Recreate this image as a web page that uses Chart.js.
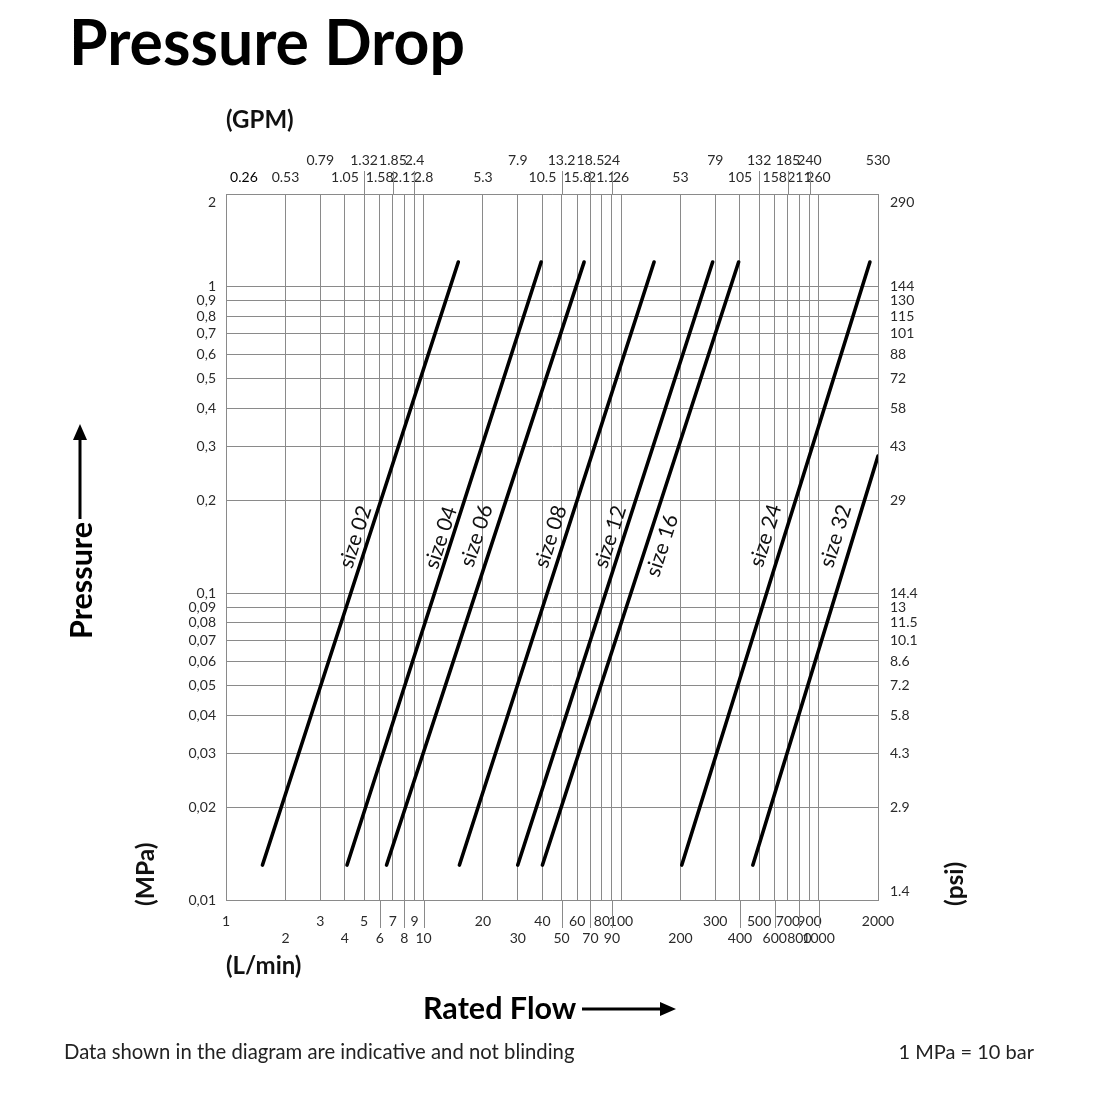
<!DOCTYPE html>
<html>
<head>
<meta charset="utf-8">
<title>Pressure Drop</title>
<script src="https://cdn.jsdelivr.net/npm/chart.js@4.4.1/dist/chart.umd.min.js"></script>
<style>
  html, body { margin: 0; padding: 0; background: #fff; }
  #wrap { position: relative; width: 1100px; height: 1100px; font-family: Lato, "Open Sans", sans-serif; color: #111; }
  #dropChart { position: absolute; left: 0; top: 0; }
  .lbl { position: absolute; line-height: 1; white-space: nowrap; }
  .b { font-weight: 700; }
  .rot { transform-origin: 0 0; transform: rotate(-90deg); }
</style>
</head>
<body>
<div id="wrap">
  <canvas id="dropChart" width="1100" height="1100"></canvas>
  <div class="lbl b" style="left:69px; top:10px; font-size:62.5px; color:#000;">Pressure Drop</div>
  <div class="lbl b" style="left:226px; top:107px; font-size:24px;">(GPM)</div>
  <div class="lbl b" style="left:226px; top:953px; font-size:24px;">(L/min)</div>
  <div class="lbl b" style="left:423px; top:992px; font-size:30.5px; color:#000;">Rated Flow</div>
  <div class="lbl b rot" style="left:65px; top:639px; font-size:30.5px; color:#000;">Pressure</div>
  <div class="lbl b rot" style="left:133px; top:906px; font-size:24.5px;">(MPa)</div>
  <div class="lbl b rot" style="left:942px; top:906px; font-size:24.5px;">(psi)</div>
  <div class="lbl" style="left:64px; top:1041px; font-size:20.3px; color:#222;">Data shown in the diagram are indicative and not blinding</div>
  <div class="lbl" style="right:66px; top:1041px; font-size:20px; color:#222;">1 MPa = 10 bar</div>
</div>
<script>
// Flow axis (L/min) and its GPM twin
const flowTicks = [1, 2, 3, 4, 5, 6, 7, 8, 9, 10, 20, 30, 40, 50, 60, 70, 80, 90, 100,
  200, 300, 400, 500, 600, 700, 800, 900, 1000, 2000];
const flowUpperRow = [1, 3, 5, 7, 9, 20, 40, 60, 80, 100, 300, 500, 700, 900, 2000];
const gpmLabels = ['0.26', '0.53', '0.79', '1.05', '1.32', '1.58', '1.85', '2.11', '2.4', '2.8',
  '5.3', '7.9', '10.5', '13.2', '15.8', '18.5', '21.1', '24', '26',
  '53', '79', '105', '132', '158', '185', '211', '240', '260', '530'];
const gpmUpperRow = [3, 5, 7, 9, 30, 50, 70, 90, 300, 500, 700, 900, 2000];
// grid lines that run out past the frame to their label
const flowLeadersBottom = [6, 8, 10, 50, 70, 90, 400, 600, 800, 1000];
const flowLeadersTop = [5, 7, 9, 50, 70, 90, 500, 700, 900];

// Pressure axis (MPa) and its psi twin
const pressureTicks = [0.01, 0.02, 0.03, 0.04, 0.05, 0.06, 0.07, 0.08, 0.09, 0.1,
  0.2, 0.3, 0.4, 0.5, 0.6, 0.7, 0.8, 0.9, 1, 2];
const mpaLabels = ['0,01', '0,02', '0,03', '0,04', '0,05', '0,06', '0,07', '0,08', '0,09', '0,1',
  '0,2', '0,3', '0,4', '0,5', '0,6', '0,7', '0,8', '0,9', '1', '2'];
const psiLabels = ['1.4', '2.9', '4.3', '5.8', '7.2', '8.6', '10.1', '11.5', '13', '14.4',
  '29', '43', '58', '72', '88', '101', '115', '130', '144', '290'];

// Size curves: straight lines on log-log paper
const sizeNames = ['size 02', 'size 04', 'size 06', 'size 08', 'size 12', 'size 16', 'size 24', 'size 32'];
const flowStart = [1.53, 4.1, 6.5, 15.2, 30, 40, 203, 465];
const flowEnd = [15, 39.4, 65, 147, 291, 394, 1820, 2000];
const pressureStart = [0.013, 0.013, 0.013, 0.013, 0.013, 0.013, 0.013, 0.013];
const pressureEnd = [1.2, 1.2, 1.2, 1.2, 1.2, 1.2, 1.2, 0.28];
const labelPressure = 0.148;

// label offset from its line, perpendicular (positive = left side)
const labelOffsets = [13, 11, 17, 14, 13, -15, 18, 17];

const gridColor = '#8a8a8a';
const tickFont = { family: 'Lato, "Open Sans", sans-serif', size: 14 };
const tickColor = '#2a2a2a';

function setTicks(values) {
  return scale => { scale.ticks = values.map(v => ({ value: v })); };
}

function findIndex(list, value) {
  return list.findIndex(v => Math.abs(v - value) < 1e-9 * Math.max(1, v));
}

// Leader lines and arrows
const leaderPlugin = {
  id: 'leaders',
  afterDraw(chart) {
    const ctx = chart.ctx;
    const x = chart.scales.x;
    const area = chart.chartArea;
    ctx.save();
    ctx.strokeStyle = gridColor;
    ctx.lineWidth = 1;
    ctx.beginPath();
    flowLeadersBottom.forEach(v => {
      const px = Math.round(x.getPixelForValue(v)) + 0.5;
      ctx.moveTo(px, area.bottom);
      ctx.lineTo(px, area.bottom + 28);
    });
    flowLeadersTop.forEach(v => {
      const px = Math.round(x.getPixelForValue(v)) + 0.5;
      ctx.moveTo(px, area.top);
      ctx.lineTo(px, area.top - 23);
    });
    ctx.stroke();

    // axis arrows
    ctx.strokeStyle = '#000';
    ctx.fillStyle = '#000';
    ctx.lineWidth = 3;
    ctx.beginPath();
    ctx.moveTo(582, 1009);
    ctx.lineTo(664, 1009);
    ctx.moveTo(80, 519);
    ctx.lineTo(80, 438);
    ctx.stroke();
    ctx.beginPath();
    ctx.moveTo(676, 1009);
    ctx.lineTo(660, 1002);
    ctx.lineTo(660, 1016);
    ctx.closePath();
    ctx.moveTo(80, 424);
    ctx.lineTo(73, 440);
    ctx.lineTo(87, 440);
    ctx.closePath();
    ctx.fill();
    ctx.restore();
  }
};

// "size xx" captions written along each line
const sizeLabelPlugin = {
  id: 'sizeLabels',
  afterDatasetsDraw(chart) {
    const ctx = chart.ctx;
    const xs = chart.scales.x;
    const ys = chart.scales.y;
    ctx.save();
    ctx.font = '21px Lato, "Open Sans", sans-serif';
    ctx.fillStyle = '#111';
    ctx.textAlign = 'center';
    ctx.textBaseline = 'middle';
    sizeNames.forEach((name, i) => {
      const x1 = xs.getPixelForValue(flowStart[i]);
      const y1 = ys.getPixelForValue(pressureStart[i]);
      const x2 = xs.getPixelForValue(flowEnd[i]);
      const y2 = ys.getPixelForValue(pressureEnd[i]);
      const py = ys.getPixelForValue(labelPressure);
      const t = (py - y1) / (y2 - y1);
      const px = x1 + t * (x2 - x1);
      const angle = Math.atan2(y2 - y1, x2 - x1);
      ctx.save();
      ctx.translate(px, py);
      ctx.rotate(angle);
      ctx.fillText(name, 0, -labelOffsets[i]);
      ctx.restore();
    });
    ctx.restore();
  }
};

function initializeChart() {
  const ctx = document.getElementById('dropChart').getContext('2d');
  const datasets = sizeNames.map((name, i) => ({
    label: name,
    data: [
      { x: flowStart[i], y: pressureStart[i] },
      { x: flowEnd[i], y: pressureEnd[i] }
    ],
    showLine: true,
    borderColor: '#000',
    borderWidth: 3.6,
    pointRadius: 0,
    borderCapStyle: 'round',
    xAxisID: 'x',
    yAxisID: 'y'
  }));

  new Chart(ctx, {
    type: 'scatter',
    data: { datasets },
    options: {
      responsive: false,
      animation: false,
      layout: { padding: 0 },
      plugins: {
        legend: { display: false },
        tooltip: { enabled: false }
      },
      scales: {
        x: {
          type: 'logarithmic',
          position: 'bottom',
          min: 1,
          max: 2000,
          afterBuildTicks: setTicks(flowTicks),
          afterFit: scale => { scale.height = 200; },
          grid: { color: gridColor, lineWidth: 1, drawTicks: false },
          border: { color: gridColor, width: 1 },
          ticks: {
            autoSkip: false,
            maxRotation: 0,
            padding: 13,
            font: tickFont,
            color: tickColor,
            callback: value => {
              const txt = String(value);
              return findIndex(flowUpperRow, value) >= 0 ? [txt, ''] : ['', txt];
            }
          }
        },
        x2: {
          type: 'logarithmic',
          position: 'top',
          min: 1,
          max: 2000,
          afterBuildTicks: setTicks(flowTicks),
          afterFit: scale => { scale.height = 194; },
          grid: { drawOnChartArea: false, drawTicks: false },
          border: { color: gridColor, width: 1 },
          ticks: {
            autoSkip: false,
            maxRotation: 0,
            padding: 8,
            font: tickFont,
            color: c => (c.index === 0 ? '#000' : tickColor),
            callback: (value, index) => {
              let txt = gpmLabels[findIndex(flowTicks, value)];
              // first GPM value sits right of the axis start
              if (index === 0) txt = '          ' + txt;
              return findIndex(gpmUpperRow, value) >= 0 ? [txt, ''] : ['', txt];
            }
          }
        },
        y: {
          type: 'logarithmic',
          position: 'left',
          min: 0.01,
          max: 2,
          afterBuildTicks: setTicks(pressureTicks),
          afterFit: scale => { scale.width = 226; },
          grid: { color: gridColor, lineWidth: 1, drawTicks: false },
          border: { color: gridColor, width: 1 },
          ticks: {
            autoSkip: false,
            padding: 10,
            font: tickFont,
            color: tickColor,
            callback: value => {
              const txt = mpaLabels[findIndex(pressureTicks, value)];
              return value === 2 ? ['', txt] : txt;
            }
          }
        },
        y2: {
          type: 'logarithmic',
          position: 'right',
          min: 0.01,
          max: 2,
          afterBuildTicks: setTicks(pressureTicks),
          afterFit: scale => { scale.width = 222; },
          grid: { drawOnChartArea: false, drawTicks: false },
          border: { color: gridColor, width: 1 },
          ticks: {
            autoSkip: false,
            padding: 12,
            font: tickFont,
            color: tickColor,
            callback: value => {
              const txt = psiLabels[findIndex(pressureTicks, value)];
              if (value === 2) return ['', txt];
              if (value === 0.01) return [txt, ''];
              return txt;
            }
          }
        }
      }
    },
    plugins: [leaderPlugin, sizeLabelPlugin]
  });
}

initializeChart();
</script>
</body>
</html>
